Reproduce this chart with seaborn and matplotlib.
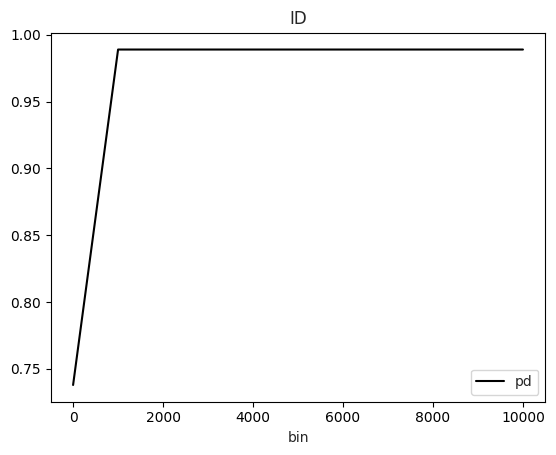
import matplotlib
matplotlib.use("Agg")
import matplotlib.pyplot as plt
import pandas as pd
import seaborn as sns

bins = [0, 1000, 10000]
pd_values = [0.738, 0.989, 0.989]

df = pd.DataFrame({"bin": bins, "pd": pd_values})

sns.set_theme(style="ticks", rc={"axes.grid": False})
plt.rcParams["font.family"] = ["DejaVu Sans"]

fig, ax = plt.subplots(figsize=(5.56, 4.55), dpi=100)
fig.subplots_adjust(left=0.091, right=0.981, bottom=0.117, top=0.928)
sns.lineplot(data=df, x="bin", y="pd", color="black", label="pd", ax=ax, linewidth=1.5)
ax.set_title("ID", fontsize=12, pad=6)
ax.set_xlabel("bin", fontsize=10, labelpad=4)
ax.set_ylabel("")
ax.tick_params(labelsize=10, color="black", labelcolor="black",
               length=3.5, width=0.8, pad=3.5)
for s in ax.spines.values():
    s.set_color("black")
    s.set_linewidth(0.8)
ax.legend(loc="lower right", fontsize=10)
fig.savefig("out.png", dpi=100)
